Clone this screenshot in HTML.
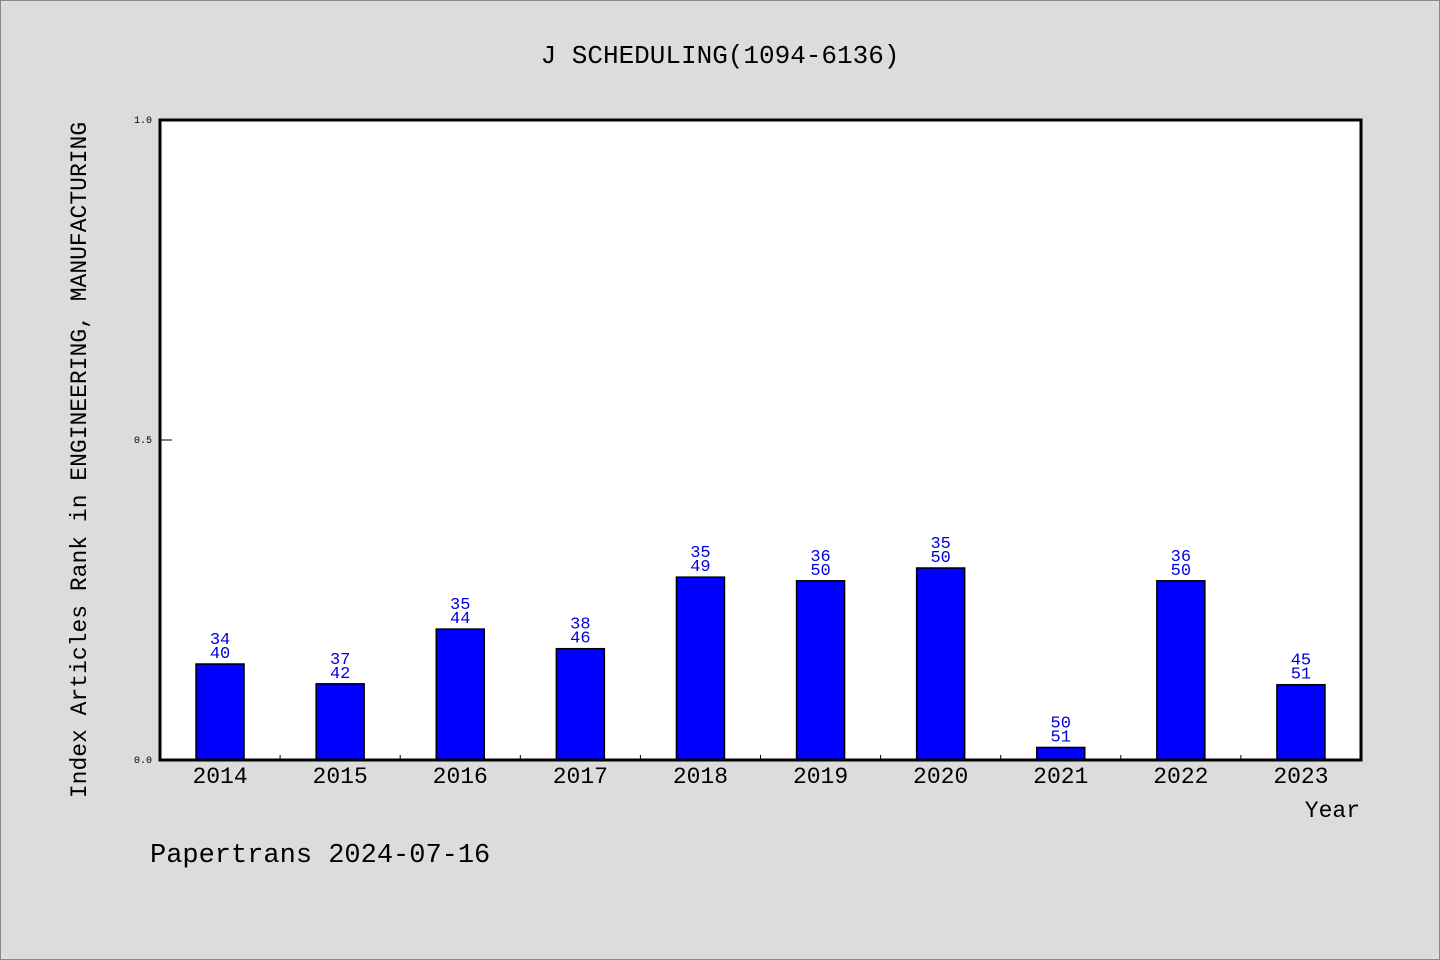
<!DOCTYPE html>
<html><head><meta charset="utf-8"><style>
html,body{margin:0;padding:0;background:#dcdcdc;}
svg{display:block;}
text{font-family:"Liberation Mono","DejaVu Sans Mono",monospace;}
</style></head><body>
<svg id="chart" width="1440" height="960" xmlns="http://www.w3.org/2000/svg">
<rect x="0.5" y="0.5" width="1439" height="959" fill="#dcdcdc" stroke="#888"/>
<text x="720" y="63" font-size="26" text-anchor="middle">J SCHEDULING(1094-6136)</text>
<rect x="160" y="120" width="1201" height="640" fill="#fff"/>
<g id="bars"></g>
<g id="axes"></g>
<text transform="translate(86,460) rotate(-90)" font-size="23" text-anchor="middle">Index Articles Rank in ENGINEERING, MANUFACTURING</text>
<text x="1360" y="817" font-size="23" text-anchor="end">Year</text>
<text x="150" y="862" font-size="27">Papertrans 2024-07-16</text>
</svg>
<script>
const years=["2014","2015","2016","2017","2018","2019","2020","2021","2022","2023"];
const ranks=[34,37,35,38,35,36,35,50,36,45];
const totals=[40,42,44,46,49,50,50,51,50,51];
const yTicks=[0,0.5,1];
const yTickLabels=["0.0","0.5","1.0"];
const NS="http://www.w3.org/2000/svg";
const L=160,R=1361,T=120,B=760;
const bw=(R-L)/years.length;
const xc=i=>L+bw*(i+0.5);
const y=v=>B-(B-T)*v;
function mk(tag,attrs,parent){const e=document.createElementNS(NS,tag);for(const k in attrs)e.setAttribute(k,attrs[k]);parent.appendChild(e);return e;}
const gb=document.getElementById('bars'),ga=document.getElementById('axes');
years.forEach((yr,i)=>{
  const v=(totals[i]-ranks[i])/totals[i];
  const r=mk('rect',{x:xc(i)-24,y:y(v),width:48,height:B-y(v),fill:'#0000ff',stroke:'#000','stroke-width':1.5},gb);
  
  
  const t1=mk('text',{x:xc(i),y:y(v)-20,'font-size':17,'text-anchor':'middle',fill:'#0000dd','font-family':'Liberation Sans, sans-serif'},gb);
  t1.textContent=ranks[i];
  
  
  const t2=mk('text',{x:xc(i),y:y(v)-6,'font-size':17,'text-anchor':'middle',fill:'#0000dd','font-family':'Liberation Sans, sans-serif'},gb);
  t2.textContent=totals[i];
  
  
  const xl=mk('text',{x:xc(i),y:783,'font-size':23,'text-anchor':'middle'},ga);
  xl.textContent=yr;
  
  
  if(i>0){const tk=mk('line',{x1:L+bw*i,x2:L+bw*i,y1:B-5,y2:B,stroke:'#000','stroke-width':1},ga);
  
  }
});
yTicks.forEach((v,i)=>{
  const tk=mk('line',{x1:L,x2:L+12,y1:y(v),y2:y(v),stroke:'#000','stroke-width':1},ga);
  
  
  const tl=mk('text',{x:152,y:y(v)+3,'font-size':10,'text-anchor':'end','font-family':'Liberation Sans, sans-serif'},ga);
  tl.textContent=yTickLabels[i];
  
  
});
const fr=mk('rect',{x:L,y:T,width:R-L,height:B-T,fill:'none',stroke:'#000','stroke-width':3},ga);


</script>
</body></html>
